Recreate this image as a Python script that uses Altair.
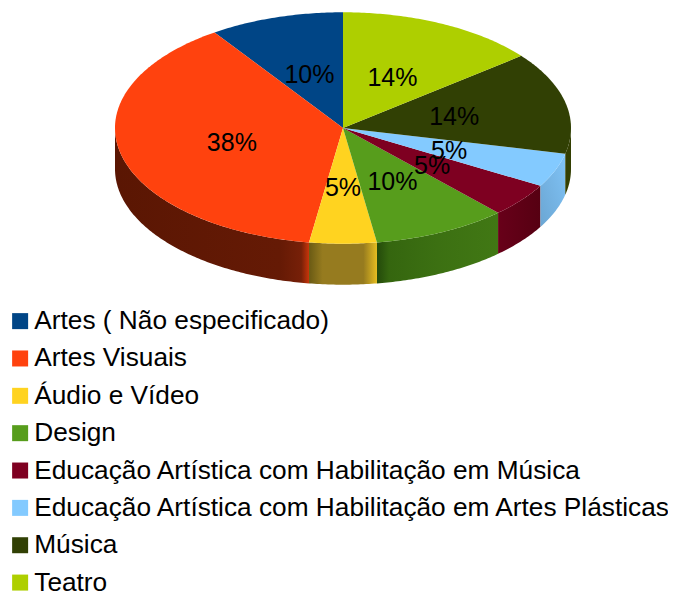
import math
import altair as alt
import pandas as pd

categories = ["Artes ( Não especificado)", "Artes Visuais", "Áudio e Vídeo", "Design",
              "Educação Artística com Habilitação em Música",
              "Educação Artística com Habilitação em Artes Plásticas", "Música", "Teatro"]
counts = [2, 8, 1, 2, 1, 1, 3, 3]
colors = ["#004586", "#ff420e", "#ffd320", "#579d1c", "#7e0021", "#83caff", "#314004", "#aecf00"]

CX, CY, RX, RY, DEPTH = 343.0, 128.0, 228.0, 115.7, 41.0
FONT = "Liberation Sans"
total = sum(counts)


def pt(deg, dy=0.0):
    t = math.radians(deg)
    return [CX - RX * math.sin(t), CY - RY * math.cos(t) + dy]


def arc(a, b, dy=0.0):
    n = max(2, int(abs(b - a) * 1.5))
    return [pt(a + (b - a) * i / n, dy) for i in range(n + 1)]


starts, ends = [], []
acc = 0
for c in counts:
    starts.append(acc / total * 360)
    acc += c
    ends.append(acc / total * 360)


def feature(coords, name):
    return {"type": "Feature", "properties": {"name": name},
            "geometry": {"type": "Polygon", "coordinates": [coords + [coords[0]]]}}


proj = dict(type="identity", scale=1, translate=[-8, -8])


def grad(stops, x1=0, x2=1, y1=0, y2=0):
    return alt.LinearGradient(gradient="linear", x1=x1, x2=x2, y1=y1, y2=y2,
                              stops=[alt.GradientStop(offset=o, color=c) for o, c in stops])


wall_fills = {
    1: grad([(0, "#5a1603"), (0.85, "#651a05"), (0.96, "#772008"), (1, "#c8350a")]),
    2: grad([(0, "#6a5a14"), (0.2, "#967b1f"), (0.8, "#967b1f"), (1, "#e6bd20")]),
    3: grad([(0, "#244a0b"), (0.1, "#35660f"), (0.5, "#3c7012"), (1, "#417814")]),
    4: grad([(0, "#680019"), (1, "#560012")]),
    5: grad([(0, "#6ba6d3"), (1, "#80c3f6")], x1=0, x2=1, y1=1, y2=0),
    6: grad([(0, "#333f02"), (1, "#333f02")]),
}

layers = []
for i, fill in wall_fills.items():
    a, b = max(starts[i], 90), min(ends[i], 270)
    coords = arc(a, b) + arc(b, a, DEPTH)
    layers.append(
        alt.Chart(alt.Data(values=[feature(coords, categories[i])]))
        .mark_geoshape(fill=fill, strokeWidth=0)
        .project(**proj)
    )

tops = [feature([[CX, CY]] + arc(s, e), n) for s, e, n in zip(starts, ends, categories)]
layers.append(
    alt.Chart(alt.Data(values=tops))
    .mark_geoshape(strokeWidth=0)
    .encode(
        color=alt.Color(
            "properties.name:N",
            scale=alt.Scale(domain=categories, range=colors),
            legend=alt.Legend(
                title=None, orient="none", legendX=-1, legendY=300, direction="vertical", columns=1,
                symbolType="square", symbolSize=256, symbolStrokeWidth=0,
                labelFont=FONT, labelFontSize=26.25, labelColor="#000000", labelLimit=700, labelOffset=1,
                rowPadding=10.35, padding=0,
            ),
        )
    )
    .project(**proj)
)

label_rows = []
for s, e, c in zip(starts, ends, counts):
    lon, lat = pt((s + e) / 2)
    label_rows.append({"lon": (lon + CX) / 2, "lat": (lat + CY) / 2 + 2.0,
                       "pct": f"{round(c / total * 100)}%"})
layers.append(
    alt.Chart(pd.DataFrame(label_rows))
    .mark_text(font=FONT, fontSize=25, color="#000000", align="center", baseline="middle")
    .encode(longitude="lon:Q", latitude="lat:Q", text="pct:N")
    .project(**proj)
)

chart = (
    alt.layer(*layers)
    .properties(width=660, height=586, padding=0, autosize=alt.AutoSizeParams(type="none"),
                background="#ffffff")
    .configure_view(stroke=None)
)
chart.save("out.html", embed_options={"renderer": "svg", "actions": False})
